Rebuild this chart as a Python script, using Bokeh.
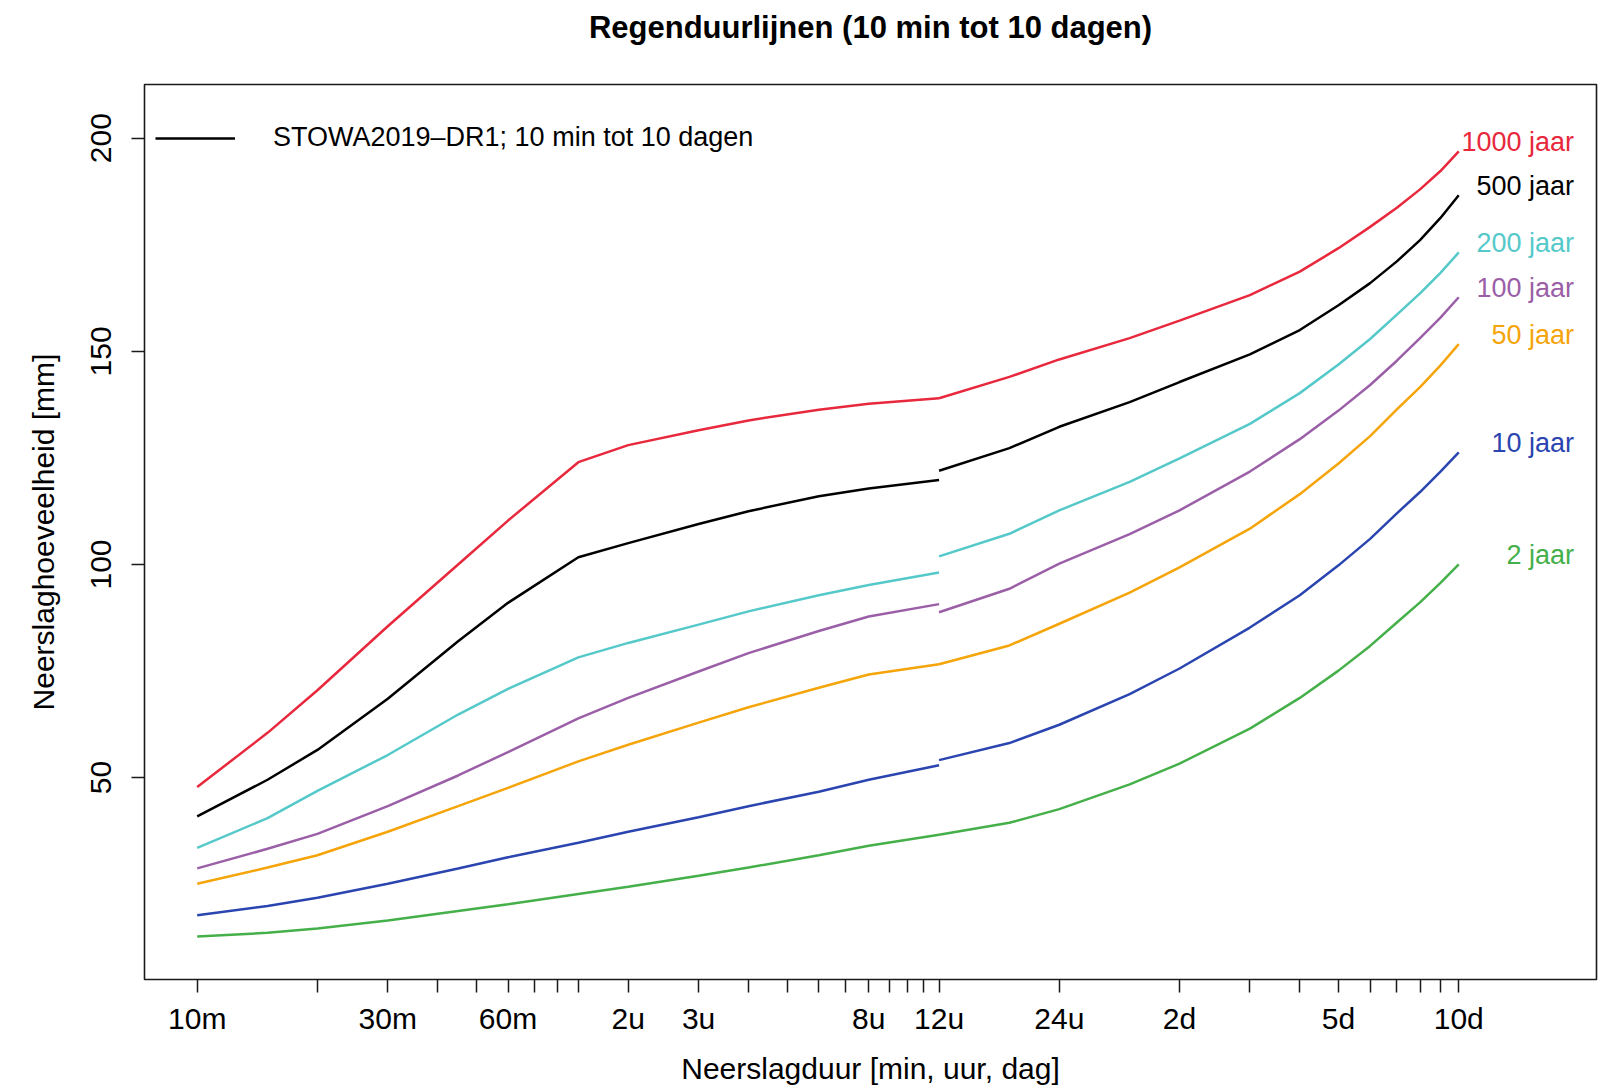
from bokeh.plotting import figure
from bokeh.models import FixedTicker, Legend, LegendItem, Range1d, ColumnDataSource, Title
from bokeh.core.properties import value
from bokeh.embed import file_html
from bokeh.resources import INLINE

# ---------------- data ----------------
# durations in minutes (segment 1: 10 min - 12 h, segment 2: 12 h - 10 days)
dur_short = [10, 15, 20, 30, 45, 60, 90, 120, 180, 240, 360, 480, 720]
dur_long = [720, 1080, 1440, 2160, 2880, 4320, 5760, 7200, 8640, 10080, 11520, 12960, 14400]

series_names = ["1000 jaar", "500 jaar", "200 jaar", "100 jaar", "50 jaar", "10 jaar", "2 jaar"]
series_colors = ["#e8283c", "#000000", "#55c9c9", "#9b5fa8", "#f5a40a", "#2b45b0", "#45b04a"]

t1000_short = [47.8, 60.5, 70.5, 85.5, 100.0, 110.3, 124.0, 128.0, 131.5, 133.8, 136.3, 137.7, 139.0]
t1000_long = [139.0, 144.0, 148.1, 153.1, 157.2, 163.2, 168.7, 174.2, 179.2, 183.7, 188.0, 192.3, 196.9]
t500_short = [40.9, 49.5, 56.5, 68.5, 82.0, 91.0, 101.7, 105.0, 109.5, 112.5, 116.0, 117.8, 119.8]
t500_long = [122.0, 127.3, 132.3, 138.1, 142.8, 149.3, 155.0, 160.8, 166.0, 171.1, 176.1, 181.3, 186.6]
t200_short = [33.5, 40.5, 46.9, 55.3, 64.8, 70.8, 78.2, 81.6, 85.9, 89.0, 92.8, 95.2, 98.1]
t200_long = [101.9, 107.2, 112.7, 119.4, 124.9, 133.0, 140.2, 146.9, 152.9, 158.6, 163.6, 168.4, 173.2]
t100_short = [28.7, 33.3, 36.8, 43.3, 50.5, 56.0, 63.9, 68.7, 74.9, 79.2, 84.4, 87.8, 90.7]
t100_long = [88.8, 94.3, 100.2, 107.1, 112.7, 121.8, 129.4, 136.1, 142.1, 147.8, 153.1, 157.9, 162.7]
t50_short = [25.1, 28.9, 31.8, 37.3, 43.3, 47.6, 53.8, 57.7, 62.9, 66.5, 71.1, 74.2, 76.6]
t50_long = [76.6, 81.0, 86.1, 93.4, 99.3, 108.4, 116.5, 123.7, 130.1, 136.4, 141.6, 146.7, 151.7]
t10_short = [17.7, 19.9, 21.8, 25.1, 28.7, 31.3, 34.7, 37.3, 40.7, 43.3, 46.7, 49.5, 52.9]
t10_long = [54.1, 58.1, 62.4, 69.6, 75.6, 85.2, 92.8, 99.8, 106.0, 112.0, 117.0, 121.8, 126.3]
t2_short = [12.7, 13.6, 14.6, 16.5, 18.7, 20.3, 22.7, 24.4, 27.0, 28.9, 31.8, 34.0, 36.6]
t2_long = [36.6, 39.4, 42.6, 48.4, 53.3, 61.5, 68.7, 75.1, 80.9, 86.4, 91.1, 95.7, 100.0]

short_values = [t1000_short, t500_short, t200_short, t100_short, t50_short, t10_short, t2_short]
long_values = [t1000_long, t500_long, t200_long, t100_long, t50_long, t10_long, t2_long]

x_tick_values = [10, 20, 30, 40, 50, 60, 70, 80, 90, 120, 180, 240, 300, 360, 420, 480,
                 540, 600, 660, 720, 1440, 2880, 4320, 5760, 7200, 8640, 10080, 11520, 12960, 14400]
x_tick_labels = ["10m", "", "30m", "", "", "60m", "", "", "", "2u", "3u", "", "", "", "", "8u",
                 "", "", "", "12u", "24u", "2d", "", "", "5d", "", "", "", "", "10d"]
y_tick_values = [50, 100, 150, 200]

legend_text = "STOWA2019\u2013DR1; 10 min tot 10 dagen"
title_text = "Regenduurlijnen (10 min tot 10 dagen)"
x_label = "Neerslagduur [min, uur, dag]"
y_label = "Neerslaghoeveelheid [mm]"
label_x = 28000  # x position (minutes) of the right-aligned return-period labels

FONT = "Liberation Sans"

# ---------------- figure ----------------
p = figure(width=1599, height=1088, x_axis_type="log",
           x_range=Range1d(7.38, 31860), y_range=Range1d(2.64, 212.6),
           output_backend="svg", toolbar_location=None,
           min_border_left=144, min_border_right=3, min_border_top=84, min_border_bottom=109)

p.background_fill_color = "white"
p.border_fill_color = "white"
p.outline_line_color = "#1a1a1a"
p.outline_line_width = 1.6
p.xgrid.visible = False
p.ygrid.visible = False

p.title.text = title_text
p.title.align = "center"
p.title.text_font = FONT
p.title.text_font_size = "31px"
p.title.text_font_style = "bold"
p.title.text_color = "black"
p.title.standoff = 0

# empty spacer between the title and the plot frame (lifts the title up)
spacer = Title(text=" ", text_font_size="12px", standoff=24, align="center")
p.add_layout(spacer, "above")

xa = p.xaxis[0]
xa.ticker = FixedTicker(ticks=x_tick_values, minor_ticks=[])
xa.major_label_overrides = {v: l for v, l in zip(x_tick_values, x_tick_labels)}
xa.axis_line_color = None
xa.major_tick_in = 0
xa.major_tick_out = 13
xa.major_tick_line_width = 1.5
xa.major_tick_line_color = "#1a1a1a"
xa.minor_tick_line_color = None
xa.major_label_text_font = FONT
xa.major_label_text_font_size = "30px"
xa.major_label_text_color = "black"
xa.major_label_standoff = 9
xa.axis_label = x_label
xa.axis_label_text_font = FONT
xa.axis_label_text_font_size = "30px"
xa.axis_label_text_font_style = "normal"
xa.axis_label_text_color = "black"
xa.axis_label_standoff = 14

ya = p.yaxis[0]
ya.ticker = FixedTicker(ticks=y_tick_values, minor_ticks=[])
ya.axis_line_color = None
ya.major_tick_in = 0
ya.major_tick_out = 13
ya.major_tick_line_width = 1.5
ya.major_tick_line_color = "#1a1a1a"
ya.minor_tick_line_color = None
ya.major_label_text_font = FONT
ya.major_label_text_font_size = "30px"
ya.major_label_text_color = "black"
ya.major_label_orientation = "vertical"
ya.major_label_standoff = 20
ya.axis_label = y_label
ya.axis_label_text_font = FONT
ya.axis_label_text_font_size = "30px"
ya.axis_label_text_font_style = "normal"
ya.axis_label_text_color = "black"
ya.axis_label_standoff = 29

legend_renderer = None
for name, color, sv, lv in zip(series_names, series_colors, short_values, long_values):
    r1 = p.line(dur_short, sv, line_color=color, line_width=2.5)
    p.line(dur_long, lv, line_color=color, line_width=2.5)
    if color == "#000000":
        legend_renderer = r1

lab_src = ColumnDataSource(dict(
    x=[label_x] * len(series_names),
    y=[lv[-1] for lv in long_values],
    text=series_names,
    color=series_colors,
))
p.text(x="x", y="y", text="text", source=lab_src, text_color="color",
       text_align="right", text_baseline="middle", y_offset=-9,
       text_font=value(FONT), text_font_size="27px")

legend = Legend(items=[LegendItem(label=legend_text, renderers=[legend_renderer])],
                location=(11, 826), orientation="vertical")
legend.glyph_width = 80
legend.glyph_height = 30
legend.label_height = 30
legend.label_standoff = 38
legend.padding = 0
legend.margin = 0
legend.spacing = 0
legend.border_line_color = None
legend.background_fill_alpha = 0
legend.label_text_font = FONT
legend.label_text_font_size = "27px"
legend.label_text_color = "black"
legend.label_text_baseline = "middle"
p.add_layout(legend)

open("out.html", "w").write(file_html(p, INLINE))
